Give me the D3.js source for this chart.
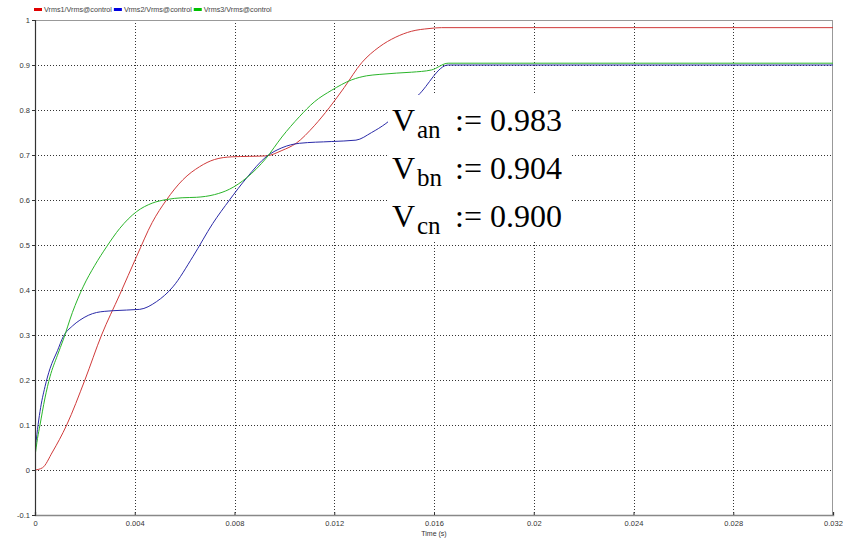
<!DOCTYPE html>
<html>
<head>
<meta charset="utf-8">
<script src="https://cdn.jsdelivr.net/npm/d3@7"></script>
<style>
  body { margin: 0; background: #fff; }
  svg { display: block; }
</style>
</head>
<body>
<svg id="chart"></svg>
<script>
// series names (legend order)
const seriesNames = ["Vrms1/Vrms@control", "Vrms2/Vrms@control", "Vrms3/Vrms@control"];
const seriesColors = ["#d03a3a", "#2a2aa8", "#2ab52a"];
const legendColors = ["#e00000", "#0000e0", "#00c000"];

// ticks
const xTicks = [0, 0.004, 0.008, 0.012, 0.016, 0.02, 0.024, 0.028, 0.032];
const xTickLabels = ["0", "0.004", "0.008", "0.012", "0.016", "0.02", "0.024", "0.028", "0.032"];
const yTicks = [-0.1, 0, 0.1, 0.2, 0.3, 0.4, 0.5, 0.6, 0.7, 0.8, 0.9, 1];
const yTickLabels = ["-0.1", "0", "0.1", "0.2", "0.3", "0.4", "0.5", "0.6", "0.7", "0.8", "0.9", "1"];

// Vrms1 (red)
const t1 = [0, 0.0003, 0.0007, 0.00127, 0.002, 0.00267, 0.0034, 0.00407, 0.0047, 0.00527, 0.00593,
  0.0066, 0.0072, 0.0079, 0.0086, 0.00927, 0.0099, 0.01047, 0.0112, 0.0118, 0.0124, 0.0131,
  0.0138, 0.01447, 0.0151, 0.0158, 0.0163, 0.032];
const v1 = [0, 0.005, 0.04, 0.1, 0.2, 0.3, 0.39, 0.474, 0.55, 0.6, 0.645,
  0.674, 0.69, 0.696, 0.697, 0.698, 0.71, 0.726, 0.765, 0.805, 0.85, 0.905,
  0.94, 0.962, 0.975, 0.981, 0.983, 0.983];

// Vrms2 (blue)
const t2 = [0, 0.0001, 0.0002, 0.0004, 0.0006, 0.0009, 0.00113, 0.0015, 0.0018, 0.00247, 0.00313,
  0.0042, 0.00487, 0.00553, 0.00633, 0.00713, 0.0078, 0.0085, 0.00927, 0.0099, 0.0106, 0.0119,
  0.01287, 0.0135, 0.01407, 0.0147, 0.01537, 0.01657, 0.032];
const v2 = [0.04, 0.09, 0.13, 0.185, 0.225, 0.265, 0.296, 0.32, 0.333, 0.35, 0.354,
  0.357, 0.374, 0.407, 0.474, 0.548, 0.6, 0.65, 0.696, 0.716, 0.726, 0.73,
  0.733, 0.75, 0.77, 0.8, 0.833, 0.9, 0.9];

// Vrms3 (green)
const t3 = [0, 0.0001, 0.0002, 0.0004, 0.0006, 0.0009, 0.00113, 0.0015, 0.00193, 0.0024, 0.00287,
  0.0034, 0.00407, 0.0047, 0.00527, 0.0059, 0.00647, 0.0072, 0.0078, 0.0085, 0.00927, 0.0099,
  0.0106, 0.0112, 0.0119, 0.0127, 0.0133, 0.0138, 0.0145, 0.0151, 0.0159, 0.01657, 0.032];
const v3 = [0.03, 0.07, 0.1, 0.16, 0.207, 0.255, 0.289, 0.35, 0.407, 0.455, 0.496,
  0.537, 0.574, 0.593, 0.601, 0.605, 0.606, 0.612, 0.624, 0.65, 0.693, 0.74,
  0.785, 0.818, 0.844, 0.867, 0.876, 0.879, 0.882, 0.884, 0.889, 0.904, 0.904];

// annotation
const annoNames = ["V", "V", "V"];
const annoSubs = ["an", "bn", "cn"];
const annoValues = ["0.983", "0.904", "0.900"];

const width = 843;
const height = 543;
const margin = { top: 20, right: 10, bottom: 28, left: 35 };

const svg = d3.select("#chart").attr("width", width).attr("height", height);

const x = d3.scaleLinear().domain([0, 0.032]).range([margin.left, width - margin.right]);
const y = d3.scaleLinear().domain([-0.1, 1]).range([height - margin.bottom, margin.top]);

const axisFont = "Liberation Sans, Arial, sans-serif";

// grid
const grid = svg.append("g").attr("stroke", "#333").attr("stroke-dasharray", "1,2").attr("stroke-width", 1);
grid.selectAll("line.gx")
  .data(xTicks.slice(1, -1))
  .join("line")
  .attr("x1", (d) => Math.round(x(d)) + 0.5).attr("x2", (d) => Math.round(x(d)) + 0.5)
  .attr("y1", y(1)).attr("y2", y(-0.1));
grid.selectAll("line.gy")
  .data(yTicks.slice(1, -1))
  .join("line")
  .attr("class", "gy")
  .attr("y1", (d) => Math.round(y(d)) + 0.5).attr("y2", (d) => Math.round(y(d)) + 0.5)
  .attr("x1", x(0)).attr("x2", x(0.032));

// frame top / right
svg.append("line").attr("x1", x(0)).attr("x2", x(0.032)).attr("y1", y(1) + 0.5).attr("y2", y(1) + 0.5)
  .attr("stroke", "#999");
svg.append("line").attr("x1", x(0.032) - 0.5).attr("x2", x(0.032) - 0.5).attr("y1", y(1)).attr("y2", y(-0.1))
  .attr("stroke", "#999");

// lines
svg.append("clipPath").attr("id", "clip").append("rect")
  .attr("x", x(0)).attr("y", y(1)).attr("width", x(0.032) - x(0)).attr("height", y(-0.1) - y(1));

const line = d3.line().x((d) => x(d[0])).y((d) => y(d[1])).curve(d3.curveMonotoneX);
const series = [
  d3.zip(t1, v1),
  d3.zip(t2, v2),
  d3.zip(t3, v3),
];
svg.append("g").attr("clip-path", "url(#clip)")
  .selectAll("path")
  .data(series)
  .join("path")
  .attr("d", line)
  .attr("fill", "none")
  .attr("stroke", (d, i) => seriesColors[i])
  .attr("stroke-width", 1);

// axes
const xAxis = d3.axisBottom(x).tickValues(xTicks).tickFormat((d, i) => xTickLabels[i]).tickSize(-3).tickPadding(6);
const gx = svg.append("g").attr("transform", `translate(0,${y(-0.1)})`).call(xAxis);
gx.select(".domain").attr("stroke", "#888").attr("stroke-width", 1.5);
gx.selectAll(".tick line").attr("stroke", "#333");
gx.selectAll("text").attr("font-family", axisFont).attr("font-size", 7.5).attr("fill", "#333");

const yAxis = d3.axisLeft(y).tickValues(yTicks).tickFormat((d, i) => yTickLabels[i]).tickSize(3).tickPadding(2);
const gy = svg.append("g").attr("transform", `translate(${x(0)},0)`).call(yAxis);
gy.select(".domain").attr("stroke", "#333").attr("stroke-width", 1.2);
gy.selectAll(".tick line").attr("stroke", "#333");
gy.selectAll("text").attr("font-family", axisFont).attr("font-size", 7.5).attr("fill", "#333");

svg.append("text")
  .attr("x", (x(0) + x(0.032)) / 2).attr("y", height - 7)
  .attr("text-anchor", "middle")
  .attr("font-family", axisFont).attr("font-size", 7).attr("fill", "#333")
  .text("Time (s)");

// legend
let lx = 34;
const legend = svg.append("g");
seriesNames.forEach((name, i) => {
  legend.append("rect").attr("x", lx).attr("y", 8).attr("width", 8).attr("height", 3).attr("fill", legendColors[i]);
  const t = legend.append("text").attr("x", lx + 10).attr("y", 11.5)
    .attr("font-family", axisFont).attr("font-size", 7.2).attr("fill", "#444").text(name);
  lx += 10 + t.node().getComputedTextLength() + 2;
});

// annotation box
const anno = svg.append("g");
anno.append("rect").attr("x", 388).attr("y", 95).attr("width", 182).attr("height", 146).attr("fill", "#fff");
const serif = "Liberation Serif, Times New Roman, serif";
annoNames.forEach((n, i) => {
  const by = 131 + i * 48;
  anno.append("text").attr("x", 392).attr("y", by)
    .attr("font-family", serif).attr("font-size", 32).attr("fill", "#000").text(n);
  anno.append("text").attr("x", 417).attr("y", by + 7)
    .attr("font-family", serif).attr("font-size", 25).attr("fill", "#000").text(annoSubs[i]);
  anno.append("text").attr("x", 455).attr("y", by)
    .attr("font-family", serif).attr("font-size", 32).attr("fill", "#000").text(":= " + annoValues[i]);
});
</script>
</body>
</html>
